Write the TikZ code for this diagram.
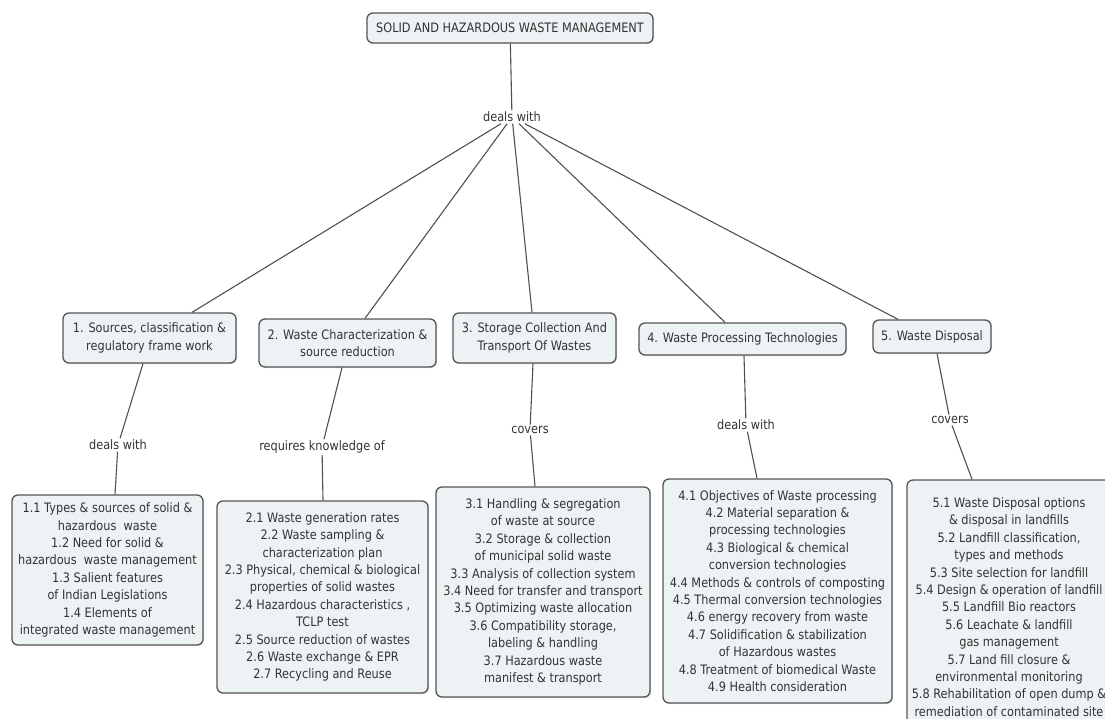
\documentclass[tikz,border=0pt]{standalone}
\usepackage{fontspec}
\setmainfont[FakeStretch=0.87]{DejaVu Sans}
\usetikzlibrary{calc,shadows}
\definecolor{boxfill}{HTML}{EDF3F5}
\definecolor{boxline}{HTML}{555555}
\definecolor{txt}{HTML}{333333}
\definecolor{linkcol}{HTML}{505050}
\begin{document}
\begin{tikzpicture}[x=1pt,y=-1pt,
  concept/.style={draw=boxline, line width=1.3pt, fill=boxfill, rounded corners=6pt,
    inner sep=0pt, align=center, text=txt, font=\fontsize{13}{17.4}\selectfont,
    drop shadow={shadow xshift=1pt, shadow yshift=-1pt, opacity=0.25}},
  linkword/.style={inner sep=1.5pt, text=txt, font=\fontsize{13}{17.4}\selectfont},
  link/.style={draw=linkcol, line width=1.1pt}]
\useasboundingbox (0,0) rectangle (1105,719);
\clip (0,0) rectangle (1105,719);
\fill[white] (0,0) rectangle (1105,719);

% root concept
\node[concept, minimum width=286pt, minimum height=30pt] (T) at (510,28)
  {SOLID AND HAZARDOUS WASTE MANAGEMENT};
\node[linkword] (L0) at (512,117) {deals with};

% main topics
\node[concept, minimum width=173pt, minimum height=50pt] (B1) at (149.5,338)
  {1. Sources, classification \&\\regulatory frame work};
\node[concept, minimum width=177pt, minimum height=48pt] (B2) at (347.5,343)
  {2. Waste Characterization \&\\source reduction};
\node[concept, minimum width=163pt, minimum height=50pt] (B3) at (534.5,338)
  {3. Storage Collection And\\Transport Of Wastes};
\node[concept, minimum width=207pt, minimum height=32pt] (B4) at (742.5,339)
  {4. Waste Processing Technologies};
\node[concept, minimum width=118pt, minimum height=33pt] (B5) at (932,336.5)
  {5. Waste Disposal};

% linking phrases
\node[linkword] (L1) at (118,445) {deals with};
\node[linkword] (L2) at (322,447) {requires knowledge of};
\node[linkword] (L3) at (530,430) {covers};
\node[linkword] (L4) at (746,425) {deals with};
\node[linkword] (L5) at (950,420) {covers};

% sub-topic lists
\node[concept, minimum width=191pt, minimum height=150pt] (C1) at (107.5,570)
  {1.1 Types \& sources of solid \&\\hazardous\ \ waste\\1.2 Need for solid \&\\
   hazardous\ \ waste management\\1.3 Salient features\\of Indian Legislations\\
   1.4 Elements of\\integrated waste management};
\node[concept, minimum width=211pt, minimum height=192pt] (C2) at (322.5,597)
  {2.1 Waste generation rates\\2.2 Waste sampling \&\\characterization plan\\
   2.3 Physical, chemical \& biological\\properties of solid wastes\\
   2.4 Hazardous characteristics ,\\TCLP test\\2.5 Source reduction of wastes\\
   2.6 Waste exchange \& EPR\\2.7 Recycling and Reuse};
\node[concept, minimum width=214pt, minimum height=210pt] (C3) at (543,592)
  {3.1 Handling \& segregation\\of waste at source\\3.2 Storage \& collection\\
   of municipal solid waste\\3.3 Analysis of collection system\\
   3.4 Need for transfer and transport\\3.5 Optimizing waste allocation\\
   3.6 Compatibility storage,\\labeling \& handling\\3.7 Hazardous waste\\
   manifest \& transport};
\node[concept, minimum width=229pt, minimum height=224pt] (C4) at (777.5,591)
  {4.1 Objectives of Waste processing\\4.2 Material separation \&\\
   processing technologies\\4.3 Biological \& chemical\\conversion technologies\\
   4.4 Methods \& controls of composting\\4.5 Thermal conversion technologies\\
   4.6 energy recovery from waste\\4.7 Solidification \& stabilization\\
   of Hazardous wastes\\4.8 Treatment of biomedical Waste\\4.9 Health consideration};
\node[concept, minimum width=204pt, minimum height=254pt] (C5) at (1009,607)
  {5.1 Waste Disposal options\\\& disposal in landfills\\5.2 Landfill classification,\\
   types and methods\\5.3 Site selection for landfill\\5.4 Design \& operation of landfill\\
   5.5 Landfill Bio reactors\\5.6 Leachate \& landfill\\gas management\\
   5.7 Land fill closure \&\\environmental monitoring\\
   5.8 Rehabilitation of open dump \&\\remediation of contaminated site};

% connectors
\draw[link] (T) -- (L0);
\draw[link] (L0) -- ($(B1.north)+(42.5,0)$);
\draw[link] (L0) -- ($(B2.north)+(17.5,0)$);
\draw[link] (L0) -- ($(B3.north)+(-2.5,0)$);
\draw[link] (L0) -- ($(B4.north)+(-17.5,0)$);
\draw[link] (L0) -- ($(B5.north)+(-34,0)$);

\draw[link] ($(B1.south)+(-6.5,0)$) -- (L1) -- ($(C1.north)+(7.5,0)$);
\draw[link] ($(B2.south)+(-5.5,0)$) -- (L2) -- ($(C2.north)+(0.5,0)$);
\draw[link] ($(B3.south)+(-1.5,0)$) -- (L3) -- ($(C3.north)+(-8,0)$);
\draw[link] ($(B4.south)+(1.5,0)$) -- (L4) -- ($(C4.north)+(-20.5,0)$);
\draw[link] ($(B5.south)+(5,0)$) -- (L5) -- ($(C5.north)+(-37,0)$);
\end{tikzpicture}
\end{document}
